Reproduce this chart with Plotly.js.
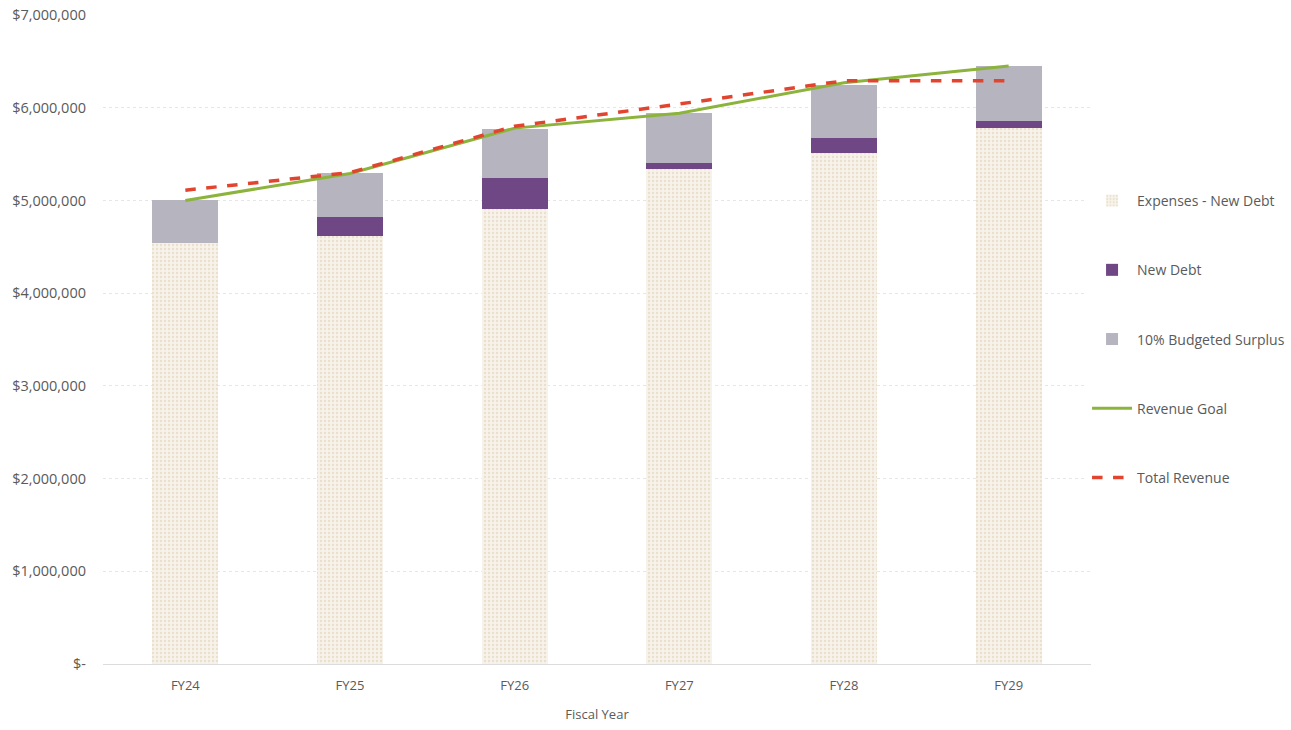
<!DOCTYPE html>
<html>
<head>
<meta charset="utf-8">
<script src="https://cdn.plot.ly/plotly-3.0.1.min.js"></script>
<style>html,body{margin:0;padding:0;background:#fff;}#chart{width:1291px;height:730px;}</style>
</head>
<body>
<div id="chart"></div>
<script>
const years = ["FY24", "FY25", "FY26", "FY27", "FY28", "FY29"];
const expensesLessDebt = [4540000, 4620000, 4910000, 5340000, 5510000, 5780000];
const newDebt = [0, 200000, 330000, 60000, 160000, 80000];
const budgetedSurplus = [460000, 480000, 530000, 540000, 580000, 590000];
const revenueGoal = [5000000, 5290000, 5780000, 5940000, 6270000, 6450000];
const totalRevenue = [5110000, 5300000, 5800000, 6040000, 6290000, 6290000];
const yTickVals = [0, 1000000, 2000000, 3000000, 4000000, 5000000, 6000000, 7000000];
const yTickText = ["$-", "$1,000,000", "$2,000,000", "$3,000,000", "$4,000,000", "$5,000,000", "$6,000,000", "$7,000,000"];

const font = "Open Sans, Noto Sans, sans-serif";
const txt = "#5a5a5a";
const traces = [
  {type: "bar", name: "Expenses - New Debt", x: years, y: expensesLessDebt, legendgroup: "a",
   marker: {color: "#f5f0e6", line: {width: 0}, pattern: {shape: ".", fgcolor: "#e9dfca", bgcolor: "#f7f3ea", size: 4, solidity: 0.25}}},
  {type: "bar", name: "New Debt", x: years, y: newDebt, legendgroup: "b",
   marker: {color: "#6e4784", line: {width: 0}}},
  {type: "bar", name: "10% Budgeted Surplus", x: years, y: budgetedSurplus, legendgroup: "c",
   marker: {color: "#b5b4bf", line: {width: 0}}},
  {type: "scatter", mode: "lines", name: "Revenue Goal", x: years, y: revenueGoal, legendgroup: "d",
   line: {color: "#8cb43c", width: 3}},
  {type: "scatter", mode: "lines", name: "Total Revenue", x: years, y: totalRevenue, legendgroup: "e",
   line: {color: "#e2452f", width: 3.5, dash: "dash"}}
];

const layout = {
  width: 1291, height: 730,
  margin: {l: 103, r: 200, t: 15, b: 66, autoexpand: false},
  paper_bgcolor: "#ffffff", plot_bgcolor: "#ffffff",
  barmode: "stack", bargap: 0.6,
  font: {family: font, size: 14, color: txt},
  showlegend: true,
  legend: {x: 0.996, xanchor: "left", y: 0.738, yanchor: "top", traceorder: "grouped",
           tracegroupgap: 48, font: {family: font, size: 14, color: txt}, itemwidth: 40},
  xaxis: {type: "category", range: [-0.5, 5.5], showgrid: false, showline: false, zeroline: false,
          ticks: "", tickfont: {family: font, size: 13, color: txt}, ticklabelstandoff: 12,
          title: {text: "Fiscal Year", font: {family: font, size: 13, color: txt}, standoff: 16}},
  yaxis: {range: [0, 7000000], tickvals: yTickVals, ticktext: yTickText, showgrid: true,
          gridcolor: "#e6e6e6", griddash: "dot", zeroline: true, zerolinecolor: "#dcdcdc", zerolinewidth: 1,
          showline: false, ticks: "", ticklabelstandoff: 16,
          tickfont: {family: font, size: 14.5, color: txt}}
};

Plotly.newPlot("chart", traces, layout, {displayModeBar: false, staticPlot: true});
</script>
</body>
</html>
